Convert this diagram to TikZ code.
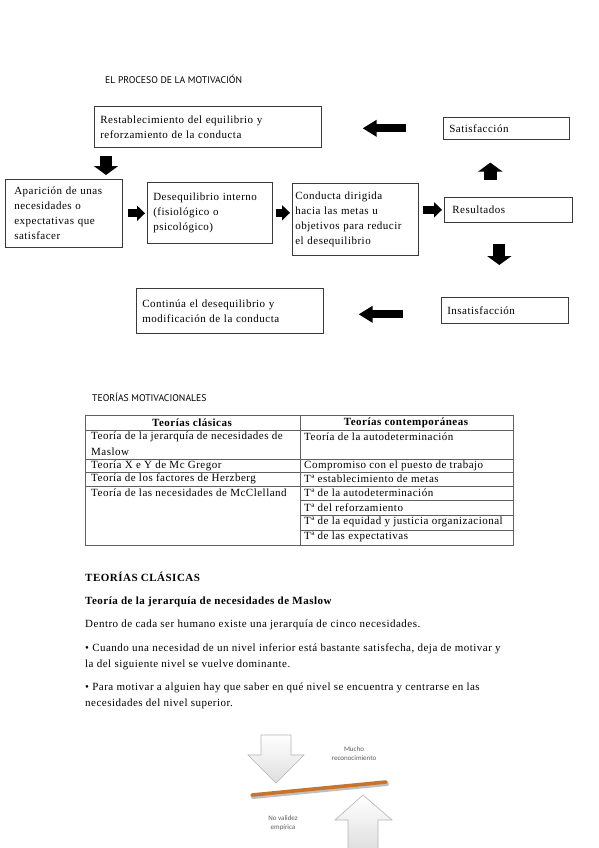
\documentclass[tikz,border=0pt]{standalone}
\usepackage{fontspec}
\setmainfont{Liberation Serif}[LetterSpace=4.5]
\newfontfamily\titlefont{PT Sans}
\newfontfamily\figfont{Carlito}
\usetikzlibrary{arrows.meta,positioning,calc}
\definecolor{boxline}{HTML}{3A3A3A}
\definecolor{tableline}{HTML}{606060}
\definecolor{barorange}{HTML}{C8742C}
\definecolor{arrowedge}{HTML}{B4B4B4}
\definecolor{arrowfill}{HTML}{DEDEDE}
\definecolor{figtext}{HTML}{5E5E5E}

\begin{document}
\begin{tikzpicture}[x=1pt,y=-1pt,
    box/.style={draw=boxline,line width=0.6pt,anchor=north west,align=left,
      inner xsep=6pt,inner ysep=2pt,font=\fontsize{11}{15}\selectfont},
    body/.style={anchor=west,inner sep=0pt,align=left,font=\fontsize{11}{15.5}\selectfont},
    cell/.style={anchor=west,inner sep=0pt,font=\fontsize{11}{14.5}\selectfont},
    headcell/.style={inner sep=0pt,font=\fontsize{11}{12}\selectfont\bfseries},
    sectitle/.style={anchor=west,inner sep=0pt,font=\titlefont\fontsize{9.7}{11}\selectfont},
    flatarr/.style={line width=8pt,-{Triangle[length=14pt,width=16pt]}},
    smallarr/.style={line width=8pt,-{Triangle[length=8pt,width=15pt]}},
    vertarr/.style={line width=12pt,-{Triangle[length=9pt,width=24pt]}},
    figarrow/.style={draw=arrowedge,line width=0.6pt,top color=white,bottom color=arrowfill},
    figlabel/.style={inner sep=0pt,align=center,text=figtext,font=\figfont\fontsize{7}{9.5}\selectfont}]
  \useasboundingbox[fill=white] (0,0) rectangle (599,848);

  % el proceso de la motivacion
  \node[sectitle] (ttlproc) at (105,79) {EL PROCESO DE LA MOTIVACIÓN};

  \node[box,text width=215pt,minimum height=41pt] (rest) at (94,106)
    {Restablecimiento del equilibrio y\\reforzamiento de la conducta};
  \node[box,text width=114pt,minimum height=22pt] (sat) at (443,117) {Satisfacción};
  \node[box,inner xsep=9pt,text width=99pt,minimum height=68pt] (apar) at (5,179)
    {Aparición de unas\\necesidades o\\expectativas que\\satisfacer};
  \node[box,text width=113pt,minimum height=61pt] (deseq) at (147,182)
    {Desequilibrio interno\\(fisiológico o\\psicológico)};
  \node[box,inner xsep=3pt,text width=120pt,minimum height=72pt] (cond) at (292,183)
    {Conducta dirigida\\hacia las metas u\\\mbox{objetivos para reducir}\\el desequilibrio};
  \node[box,inner xsep=8pt,text width=112pt,minimum height=25pt] (res) at (444,197) {Resultados};
  \node[box,text width=115pt,minimum height=26pt] (insat) at (441,297) {Insatisfacción};
  \node[box,text width=175pt,minimum height=45pt] (cont) at (136,288)
    {Continúa el desequilibrio y\\modificación de la conducta};

  \draw[vertarr,shorten <=8pt,shorten >=4pt]
    ([xshift=12pt]rest.south west) -- ([xshift=12pt]rest.south west |- apar.north);
  \draw[smallarr,shorten <=5pt,shorten >=2pt] (apar.east) -- (apar.east -| deseq.west);
  \draw[smallarr,shorten <=3pt,shorten >=2pt] (deseq.east) -- (deseq.east -| cond.west);
  \draw[smallarr,shorten <=4pt,shorten >=2pt] (cond.east |- res.west) -- (res.west);
  \draw[vertarr,line width=13pt,shorten <=17pt,shorten >=23pt]
    ([xshift=-18pt]res.north) -- ([xshift=-18pt]res.north |- sat.south);
  \draw[vertarr,shorten <=21pt,shorten >=32pt]
    ([xshift=-9pt]res.south) -- ([xshift=-9pt]res.south |- insat.north);
  \draw[flatarr,shorten <=37pt,shorten >=41pt] (sat.west) -- (sat.west -| rest.east);
  \draw[flatarr,shorten <=38pt,shorten >=35pt] ([yshift=-4pt]insat.west) -- ([yshift=-4pt]insat.west -| cont.east);

  % teorias motivacionales
  \node[sectitle] (ttlteo) at (92,397) {TEORÍAS MOTIVACIONALES};

  \draw[tableline,line width=0.6pt] (85,415) rectangle (513,545);
  \draw[tableline,line width=0.6pt] (300,415) -- (300,545);
  \foreach \yy in {430,459,472,486}
    \draw[tableline,line width=0.6pt] (85,\yy) -- (513,\yy);
  \foreach \yy in {500,515,530}
    \draw[tableline,line width=0.6pt] (300,\yy) -- (513,\yy);

  \node[headcell] (hclas) at (192,423) {Teorías clásicas};
  \node[headcell] (hcont) at (406,423) {Teorías contemporáneas};
  \node[cell] (c1) at (91,437) {Teoría de la jerarquía de necesidades de};
  \node[cell] (c1b) at (91,452) {Maslow};
  \node[cell] (c2) at (91,466) {Teoría X e Y de Mc Gregor};
  \node[cell] (c3) at (91,479) {Teoría de los factores de Herzberg};
  \node[cell] (c4) at (91,493) {Teoría de las necesidades de McClelland};
  \node[cell] (d1) at (304,437) {Teoría de la autodeterminación};
  \node[cell] (d2) at (304,466) {Compromiso con el puesto de trabajo};
  \node[cell] (d3) at (304,479) {Tª establecimiento de metas};
  \node[cell] (d4) at (304,493) {Tª de la autodeterminación};
  \node[cell] (d5) at (304,508) {Tª del reforzamiento};
  \node[cell] (d6) at (304,522) {Tª de la equidad y justicia organizacional};
  \node[cell] (d7) at (304,537) {Tª de las expectativas};

  % teorias clasicas
  \node[body,font=\fontsize{11}{13}\selectfont\bfseries] (tclas) at (85,577) {TEORÍAS CLÁSICAS};
  \node[body,font=\fontsize{11}{13}\selectfont\bfseries] (tmas) at (85,602)
    {Teoría de la jerarquía de necesidades de Maslow};
  \node[body] (p1) at (85,625) {Dentro de cada ser humano existe una jerarquía de cinco necesidades.};
  \node[body] (p2) at (85,657)
    {• Cuando una necesidad de un nivel inferior está bastante satisfecha, deja de motivar y\\
     la del siguiente nivel se vuelve dominante.};
  \node[body] (p3) at (85,696)
    {• Para motivar a alguien hay que saber en qué nivel se encuentra y centrarse en las\\
     necesidades del nivel superior.};

  % figura
  \draw[figarrow] (261,735) -- (291,735) -- (291,755) -- (304,755) -- (276,783)
    -- (248,755) -- (261,755) -- cycle;
  \draw[figarrow] (348,852) -- (348,820) -- (335,820) -- (363,795) -- (392,820)
    -- (378,820) -- (378,852) -- cycle;
  \draw[black!25,line width=4pt,line cap=round] (253,797) -- (387,784);
  \draw[barorange,line width=3.6pt,line cap=round] (252,795) -- (386,782);
  \node[figlabel] (mucho) at (354,753.5) {Mucho\\reconocimiento};
  \node[figlabel] (novalid) at (283,823) {No validez\\empírica};
\end{tikzpicture}
\end{document}
